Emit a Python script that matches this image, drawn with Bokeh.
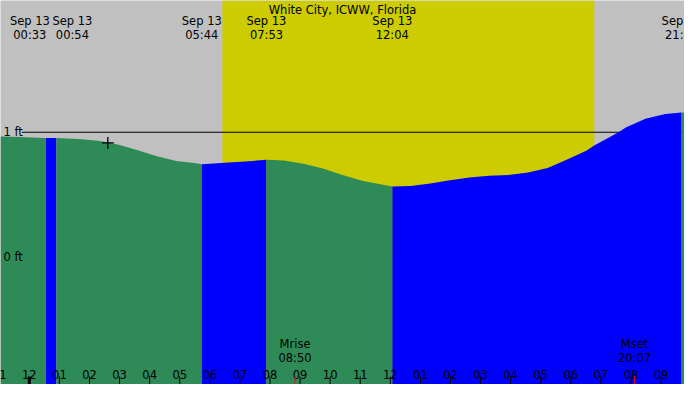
from bokeh.core.properties import value
from bokeh.embed import file_html
from bokeh.models import Range1d
from bokeh.plotting import figure
from bokeh.resources import INLINE

NIGHT = "#c0c0c0"
DAY = "#cccc00"
RISING = "#0000ff"
FALLING = "#2e8b57"
FONT = value("DejaVu Sans")
FONT_SIZE = "11.5px"

# tide level, hours after midnight Sep 13 -> feet
tide_hours = [-0.96, -0.31, 0.55, 0.90, 1.64, 2.29, 2.61, 2.94, 3.58, 4.24, 4.89, 5.54,
              5.733, 6.51, 7.16, 7.883, 8.46, 9.11, 9.76, 10.41, 11.06, 11.71, 12.067,
              12.68, 13.33, 13.98, 14.63, 15.28, 15.93, 16.58, 17.23, 17.88, 18.53,
              18.79, 19.18, 19.60, 19.83, 20.48, 21.14, 21.683, 21.78]
tide_feet = [0.966, 0.962, 0.954, 0.955, 0.946, 0.933, 0.918, 0.902, 0.858, 0.808, 0.769, 0.751,
             0.743, 0.756, 0.766, 0.779, 0.774, 0.748, 0.710, 0.658, 0.612, 0.582, 0.566,
             0.569, 0.589, 0.615, 0.638, 0.651, 0.658, 0.678, 0.714, 0.782, 0.855,
             0.897, 0.946, 1.002, 1.038, 1.108, 1.146, 1.158, 1.157]

event_hours = [0.55, 0.90, 5.733, 7.883, 12.067, 21.683]
event_kinds = ["low", "high", "low", "high", "low", "high"]
event_labels = ["Sep 13\n00:33", "Sep 13\n00:54", "Sep 13\n05:44",
                "Sep 13\n07:53", "Sep 13\n12:04", "Sep 13\n21:41"]
event_label_shift = [-16, 16, 0, 0, 0, 0]  # px, keeps the two early labels apart

sunrise, sunset = 6.417, 18.783
moon_hours = [8.833, 20.117]
moon_labels = ["Mrise\n08:50", "Mset\n20:07"]

now_hour, now_feet = 2.61, 0.915

tick_hours = list(range(-1, 22))
tick_labels = ["11", "12", "01", "02", "03", "04", "05", "06", "07", "08", "09", "10",
               "11", "12", "01", "02", "03", "04", "05", "06", "07", "08", "09"]
datum_feet = [1, 0]
datum_labels = ["1 ft", "0 ft"]

X0, X1 = -0.958, 21.78
Y0, Y1 = -1.021, 2.056

p = figure(
    width=684, height=384, x_range=Range1d(X0, X1), y_range=Range1d(Y0, Y1),
    x_axis_type=None, y_axis_type=None, toolbar_location=None,
    output_backend="svg", min_border=0, outline_line_color=None,
    background_fill_color=NIGHT, border_fill_color=NIGHT,
)
p.grid.visible = False

# daylight
p.quad(left=sunrise, right=sunset, bottom=Y0, top=Y1, fill_color=DAY, line_color=None)

# 1 ft datum line sits behind the water
p.segment(x0=-0.25, y0=1, x1=X1, y1=1, line_color="black", line_width=1.1)

# water, blue while rising and green while falling
bounds = [tide_hours[0]] + [h for h in event_hours if tide_hours[0] < h < tide_hours[-1]] + [tide_hours[-1]]
for start, end in zip(bounds[:-1], bounds[1:]):
    xs = [h for h in tide_hours if start <= h <= end]
    ys = [f for h, f in zip(tide_hours, tide_feet) if start <= h <= end]
    mid = (start + end) / 2
    upcoming = [k for h, k in zip(event_hours, event_kinds) if h > mid]
    if upcoming:
        color = RISING if upcoming[0] == "high" else FALLING
    else:
        color = RISING if event_kinds[-1] == "low" else FALLING
    p.varea(x=xs, y1=Y0, y2=ys, fill_color=color)

p.scatter([now_hour], [now_feet], marker="cross", size=12, line_color="black", line_width=1.3)

# labels
p.text(x=[(X0 + X1) / 2], y=Y1, text=["White City, ICWW, Florida"], text_font=FONT,
       text_font_size=FONT_SIZE, text_align="center", text_baseline="top", y_offset=2)
p.text(x=event_hours, y=Y1, text=event_labels, x_offset=event_label_shift, y_offset=13,
       text_font=FONT, text_font_size=FONT_SIZE, text_align="center", text_baseline="top",
       text_line_height=1.0)
p.text(x=X0, y=datum_feet, text=datum_labels, x_offset=3, text_font=FONT,
       text_font_size=FONT_SIZE, text_align="left", text_baseline="middle")

# hour ticks along the bottom
p.ray(x=tick_hours, y=Y0, length=8, length_units="screen", angle=90, angle_units="deg",
      line_color="black", line_width=[3 if h == 0 else 1 for h in tick_hours])
p.text(x=tick_hours, y=Y0, text=tick_labels, y_offset=-10, text_font=FONT,
       text_font_size=FONT_SIZE, text_align="center", text_baseline="alphabetic")

p.ray(x=moon_hours, y=Y0, length=8, length_units="screen", angle=90, angle_units="deg",
      line_color="red", line_width=1)
p.text(x=moon_hours, y=Y0, text=moon_labels, y_offset=-20, text_font=FONT,
       text_font_size=FONT_SIZE, text_align="center", text_baseline="bottom",
       text_line_height=1.0)

open("out.html", "w").write(file_html(p, INLINE))
